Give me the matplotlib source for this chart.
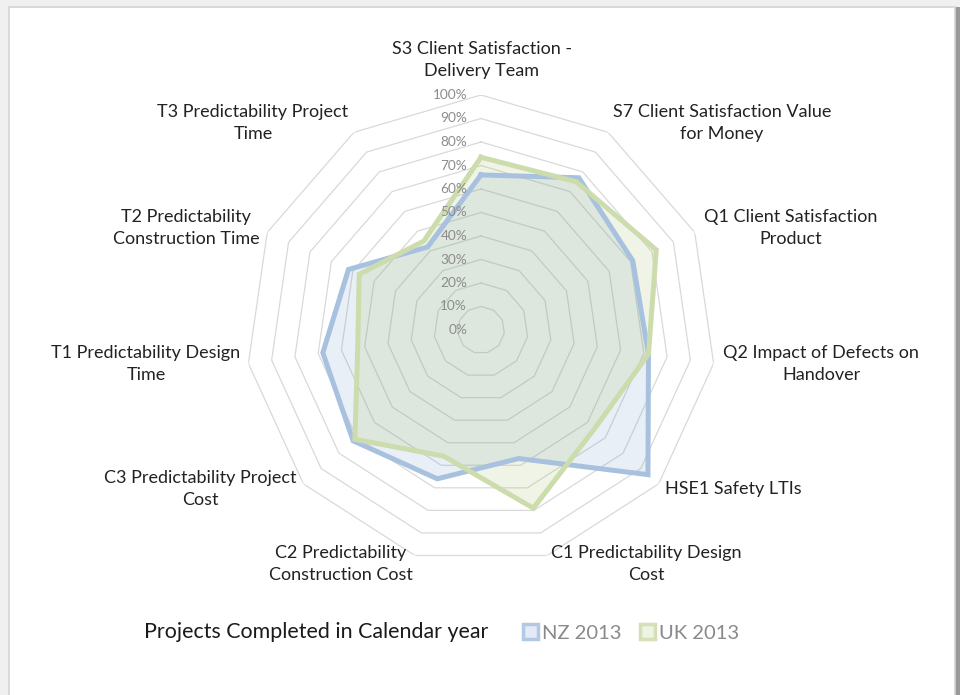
import numpy as np
import matplotlib
matplotlib.use("Agg")
import matplotlib.pyplot as plt
from matplotlib.patches import Patch, Rectangle

plt.rcParams['font.family'] = ['Lato', 'DejaVu Sans']

categories = [
    "S3 Client Satisfaction -\nDelivery Team",
    "S7 Client Satisfaction Value\nfor Money",
    "Q1 Client Satisfaction\nProduct",
    "Q2 Impact of Defects on\nHandover",
    "HSE1 Safety LTIs",
    "C1 Predictability Design\nCost",
    "C2 Predictability\nConstruction Cost",
    "C3 Predictability Project\nCost",
    "T1 Predictability Design\nTime",
    "T2 Predictability\nConstruction Time",
    "T3 Predictability Project\nTime",
]
nz_2013 = [0.66, 0.77, 0.71, 0.72, 0.94, 0.57, 0.66, 0.72, 0.68, 0.62, 0.42]
uk_2013 = [0.735, 0.75, 0.82, 0.72, 0.64, 0.79, 0.56, 0.71, 0.53, 0.57, 0.45]
series_names = ["NZ 2013", "UK 2013"]
tick_values = [0.0, 0.1, 0.2, 0.3, 0.4, 0.5, 0.6, 0.7, 0.8, 0.9, 1.0]
tick_labels = ["0%", "10%", "20%", "30%", "40%", "50%", "60%", "70%", "80%", "90%", "100%"]
legend_title = "Projects Completed in Calendar year"

W, H = 960, 695
fig = plt.figure(figsize=(W / 100, H / 100), dpi=100)
fig.patch.set_facecolor('#f0f0f0')

# white chart frame
fig.patches.append(Rectangle((955 / W, 0), 5 / W, 1 - 7 / H, transform=fig.transFigure,
                             facecolor='#9a9a9a', edgecolor='none', zorder=-2))
fig.patches.append(Rectangle((9 / W, -0.01), (955 - 9) / W, 1 - 7 / H + 0.01,
                             transform=fig.transFigure, facecolor='white',
                             edgecolor='#d4d4d4', linewidth=1.2, zorder=-1))

cx, cy, R = 481, 330, 235
ax = fig.add_axes([(cx - R) / W, 1 - (cy + R) / H, 2 * R / W, 2 * R / H], projection='polar')
ax.set_zorder(1)
ax.set_theta_zero_location('N')
ax.set_theta_direction(-1)
ax.set_ylim(0, 1.0)
ax.axis('off')
ax.patch.set_alpha(0)

n = len(categories)
theta = np.linspace(0, 2 * np.pi, n, endpoint=False)
theta_c = np.append(theta, theta[0])

# polygon grid
for v in tick_values[1:]:
    ax.plot(theta_c, [v] * (n + 1), color='#d9d9d9', lw=0.9, zorder=1)

nz_c = np.append(nz_2013, nz_2013[0])
uk_c = np.append(uk_2013, uk_2013[0])

ax.fill(theta_c, nz_c, color='#4f81bd', alpha=0.12, lw=0, zorder=2)
ax.fill(theta_c, uk_c, color='#9bbb59', alpha=0.15, lw=0, zorder=2)
ax.plot(theta_c, nz_c, color='#a8c1df', lw=3.6, zorder=3, solid_joinstyle='miter')
ax.plot(theta_c, uk_c, color='#cddcad', lw=3.6, zorder=3, solid_joinstyle='miter')

for v, lab in zip(tick_values, tick_labels):
    ax.annotate(lab, xy=(0, v), xytext=(-10, 0), textcoords='offset points',
                ha='right', va='center', fontsize=9.8, color='#8c8c8c', zorder=5)

# category labels (pixel centres)
label_pos = [
    (482, 60), (722, 123), (791, 228), (821, 364), (733, 489), (646, 564),
    (341, 564), (200, 489), (146, 364), (186, 228), (253, 123),
]
for lab, (x, y) in zip(categories, label_pos):
    fig.text(x / W, 1 - y / H, lab, ha='center', va='center', fontsize=13,
             color='#222222', linespacing=1.5)

fig.text(316 / W, 1 - 632 / H, legend_title, ha='center', va='center',
         fontsize=15.4, color='#1a1a1a')

handles = [
    Patch(facecolor='#e3eaf5', edgecolor='#b3c8e3', linewidth=2.5, label=series_names[0]),
    Patch(facecolor='#eef3e2', edgecolor='#d3e0b6', linewidth=2.5, label=series_names[1]),
]
fig.legend(handles=handles, loc='center left', bbox_to_anchor=(505 / W, 1 - 633 / H),
           ncol=2, frameon=False, fontsize=14.5, labelcolor='#8a8a8a',
           handlelength=0.75, handleheight=0.75, handletextpad=0.2, columnspacing=0.9)

fig.savefig('out.png', dpi=100, facecolor=fig.get_facecolor())
